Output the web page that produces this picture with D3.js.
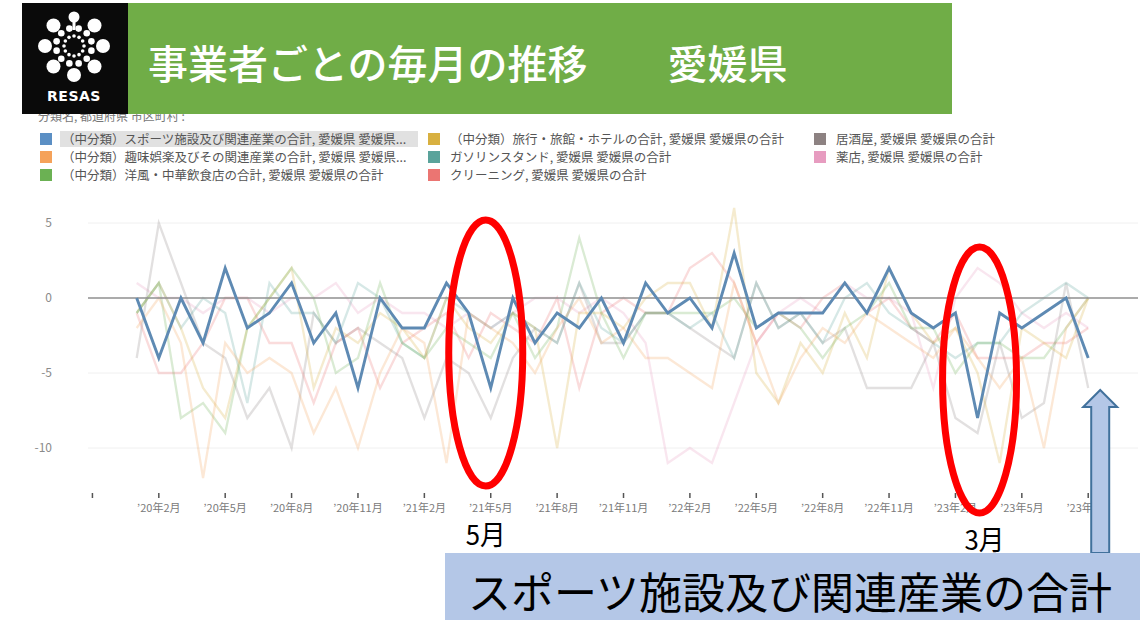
<!DOCTYPE html>
<html>
<head>
<meta charset="utf-8">
<script src="https://cdn.jsdelivr.net/npm/d3@7"></script>
<style>
body { margin: 0; background: #fff; }
svg { display: block; font-family: "Noto Sans CJK JP", "Noto Sans", sans-serif; }
</style>
</head>
<body>
<svg width="1140" height="620"></svg>
<script>
// month index 0 = 2020年1月 ... 43 = 2023年8月
var sports   = [0,-4,0,-3,2,-2,-1,1,-3,-1,-6,0,-2,-2,1,-1,-6,0,-3,-1,-2,0,-3,1,-1,0,-2,3,-2,-1,-1,-1,1,-1,2,-1,-2,-1,-8,-1,-2,-1,0,-4];
var travel   = [-1,1,-2,-6,-8,-2,0,2,-6,-2,-3,-1,-2,-4,0,-2,-3,-1,-2,-10,-1,-1,-2,0,1,1,-2,6,-5,-7,-3,-5,-1,-4,2,-1,-3,-2,-5,-11,-2,-3,-4,0];
var izakaya  = [-4,5,1,-3,-4,-8,-6,-10,-1,-3,-2,-3,-4,-8,-4,-5,-8,-4,-2,-3,1,-3,-3,-1,-1,-2,-3,-4,1,-2,-1,-3,-2,-6,-6,-6,-3,-8,-9,-3,-8,-7,1,-6];
var hobby    = [-2,0,-3,-12,-3,-5,-4,-5,-9,-6,-10,-5,-2,-3,-11,-1,-2,-3,-5,-2,0,-3,-2,-4,-4,-5,-6,1,-3,-7,-4,-2,-3,-1,-2,-3,-4,-2,-4,-6,-4,-10,-2,0];
var gas      = [-1,1,-2,0,-1,-7,1,-1,-1,-3,1,0,-3,-4,0,-1,-2,-1,-2,-3,1,-2,-3,-1,-1,-2,-1,-4,1,-2,-1,-3,0,1,-1,-2,-3,-4,-3,-3,-1,0,1,0];
var pharmacy = [1,0,0,-1,0,0,-1,0,0,1,-1,0,-1,-1,-2,-1,-2,-1,0,0,-1,0,-1,-3,-11,-10,-11,-7,-3,-1,0,-1,1,0,0,-1,-6,0,2,1,-1,-2,-1,-2];
var western  = [-1,1,-8,-7,-9,-2,0,2,0,-5,-4,1,-3,-4,-2,-3,-4,-1,-4,-2,4,-1,-4,-1,-1,-1,-1,0,-2,-1,-2,-4,-2,-1,1,-2,-2,-5,-3,-3,-4,-4,-2,0];
var cleaning = [-1,-5,-5,-3,0,0,-3,-3,-7,-3,-2,-6,-3,-2,-1,-4,-1,-2,-3,0,-6,-1,0,-1,-1,2,3,1,-3,-1,-2,0,1,-1,0,-2,-3,-1,-4,-4,-4,-3,-3,-2];

var legendNames = [
  "（中分類）スポーツ施設及び関連産業の合計, 愛媛県 愛媛県...",
  "（中分類）趣味娯楽及びその関連産業の合計, 愛媛県 愛媛県...",
  "（中分類）洋風・中華飲食店の合計, 愛媛県 愛媛県の合計",
  "（中分類）旅行・旅館・ホテルの合計, 愛媛県 愛媛県の合計",
  "ガソリンスタンド, 愛媛県 愛媛県の合計",
  "クリーニング, 愛媛県 愛媛県の合計",
  "居酒屋, 愛媛県 愛媛県の合計",
  "薬店, 愛媛県 愛媛県の合計"
];
var legendColors = ["#5b8fc4", "#f5a25a", "#6bb153", "#d8b040", "#5aa39b", "#eb7572", "#8d8282", "#e79cc0"];
var seriesList = [sports, hobby, western, travel, gas, cleaning, izakaya, pharmacy];

var yTicks = [5, 0, -5, -10];
var xTickMonths = [-2, 1, 4, 7, 10, 13, 16, 19, 22, 25, 28, 31, 34, 37, 40, 43];
var xTickLabels = ["", "’20年2月", "’20年5月", "’20年8月", "’20年11月", "’21年2月", "’21年5月", "’21年8月",
  "’21年11月", "’22年2月", "’22年5月", "’22年8月", "’22年11月", "’23年2月", "’23年5月", "’23年8月"];

var titleText = "事業者ごとの毎月の推移　　愛媛県";
var footerText = "スポーツ施設及び関連産業の合計";

var svg = d3.select("svg");

var x = d3.scaleLinear().domain([-2.2, 45.25]).range([88, 1138]);
var y = d3.scaleLinear().domain([-13, 6.6]).range([493, 199]);

// legend header (mostly hidden behind banner)
svg.append("text").attr("x", 38).attr("y", 121).attr("font-size", 12).attr("fill", "#777")
  .text("分類名, 都道府県 市区町村 :");

// legend
var colX = [40, 428, 814];
var rowY = [139, 157, 175];
var leg = svg.append("g");
legendNames.forEach(function(name, i) {
  var cx = colX[Math.floor(i / 3)];
  var cy = rowY[i % 3];
  if (i == 0) {
    leg.append("rect").attr("x", cx + 20).attr("y", cy - 8).attr("width", 358).attr("height", 16).attr("fill", "#e1e1e1");
  }
  leg.append("rect").attr("x", cx).attr("y", cy - 6).attr("width", 12).attr("height", 12).attr("fill", legendColors[i]);
  leg.append("text").attr("x", cx + 22).attr("y", cy).attr("dy", "0.36em")
    .attr("font-size", 12.5).attr("fill", "#555").text(name);
});

// grid + y labels
var grid = svg.append("g");
grid.selectAll("line").data(yTicks.filter(function(d) { return d != 0; })).enter().append("line")
  .attr("x1", 88).attr("x2", 1138)
  .attr("y1", function(d) { return y(d); }).attr("y2", function(d) { return y(d); })
  .attr("stroke", "#f0f0f0").attr("stroke-width", 1);
grid.selectAll("text").data(yTicks).enter().append("text")
  .attr("x", 52).attr("y", function(d) { return y(d); }).attr("dy", "0.35em")
  .attr("text-anchor", "end").attr("font-size", 12).attr("fill", "#8a8a8a")
  .text(function(d) { return d; });

// x axis ticks
var xa = svg.append("g");
xTickMonths.forEach(function(m, i) {
  xa.append("line").attr("x1", x(m)).attr("x2", x(m)).attr("y1", 493).attr("y2", 498)
    .attr("stroke", "#555").attr("stroke-width", 1.5);
  xa.append("text").attr("x", x(m)).attr("y", 512).attr("text-anchor", "middle")
    .attr("font-size", 11).attr("fill", "#7a7a7a").text(xTickLabels[i]);
});

var line = d3.line().x(function(d, i) { return x(i); }).y(function(d) { return y(d); });

// faded series
for (var k = seriesList.length - 1; k >= 1; k--) {
  svg.append("path").attr("d", line(seriesList[k])).attr("fill", "none")
    .attr("stroke", legendColors[k]).attr("stroke-opacity", 0.25).attr("stroke-width", 2.3);
}

// zero line
svg.append("line").attr("x1", 88).attr("x2", 1138).attr("y1", y(0)).attr("y2", y(0))
  .attr("stroke", "#8f8f8f").attr("stroke-width", 1.6);

// highlighted series
svg.append("path").attr("d", line(sports)).attr("fill", "none")
  .attr("stroke", "#5e8ab3").attr("stroke-width", 2.9);

// banner
svg.append("rect").attr("x", 128).attr("y", 3).attr("width", 824).attr("height", 111).attr("fill", "#70ad47");
svg.append("text").attr("x", 148).attr("y", 65).attr("dy", "0.35em").attr("font-size", 40).attr("font-weight", 500)
  .attr("fill", "#fff").text(titleText);

// logo
svg.append("rect").attr("x", 22).attr("y", 3).attr("width", 106).attr("height", 111).attr("fill", "#0a0a0a");
var logo = svg.append("g").attr("transform", "translate(74,46)").attr("fill", "#fff");
d3.range(8).forEach(function(i) {
  var a = i * Math.PI / 4 - Math.PI / 2;
  logo.append("circle").attr("cx", 29 * Math.cos(a)).attr("cy", 29 * Math.sin(a)).attr("r", i == 0 ? 5.5 : 7);
});
d3.range(12).forEach(function(i) {
  var a = i * Math.PI / 6 - Math.PI / 2 + Math.PI / 12;
  logo.append("circle").attr("cx", 18 * Math.cos(a)).attr("cy", 18 * Math.sin(a)).attr("r", 3.3);
  logo.append("circle").attr("cx", 10 * Math.cos(a + Math.PI / 12)).attr("cy", 10 * Math.sin(a + Math.PI / 12)).attr("r", 1.8);
});
logo.append("rect").attr("x", -1.5).attr("y", -26).attr("width", 3).attr("height", 10);
svg.append("text").attr("x", 74).attr("y", 96).attr("dy", "0.35em").attr("text-anchor", "middle")
  .attr("font-family", "'DejaVu Sans', sans-serif").attr("font-weight", "bold").attr("font-size", 14)
  .attr("letter-spacing", 0.5).attr("fill", "#fff").text("RESAS");

// annotations
var ann = svg.append("g");
[[16, -5, 353], [38, 2, 380]].forEach(function(e) {
  ann.append("ellipse").attr("cx", x(e[0]) + e[1]).attr("cy", e[2]).attr("rx", 37).attr("ry", 133)
    .attr("fill", "none").attr("stroke", "#ff0000").attr("stroke-width", 7);
});
ann.append("text").attr("x", x(16) - 5).attr("y", 536).attr("dy", "0.35em").attr("text-anchor", "middle")
  .attr("font-size", 27).attr("textLength", 40).attr("lengthAdjust", "spacingAndGlyphs").attr("fill", "#000").text("5月");
ann.append("text").attr("x", x(38) + 7).attr("y", 541).attr("dy", "0.35em").attr("text-anchor", "middle")
  .attr("font-size", 27).attr("textLength", 40).attr("lengthAdjust", "spacingAndGlyphs").attr("fill", "#000").text("3月");

var ax = x(43) + 12;
ann.append("polygon")
  .attr("points", [[ax, 390], [ax + 17, 407], [ax + 9, 407], [ax + 9, 553], [ax - 9, 553], [ax - 9, 407], [ax - 17, 407]].join(" "))
  .attr("fill", "#b4c7e7").attr("stroke", "#41719c").attr("stroke-width", 2);

svg.append("rect").attr("x", 445).attr("y", 553).attr("width", 695).attr("height", 67).attr("fill", "#b4c7e7");
svg.append("text").attr("x", 790).attr("y", 594).attr("dy", "0.35em").attr("text-anchor", "middle")
  .attr("font-size", 43).attr("fill", "#000").text(footerText);
</script>
</body>
</html>
